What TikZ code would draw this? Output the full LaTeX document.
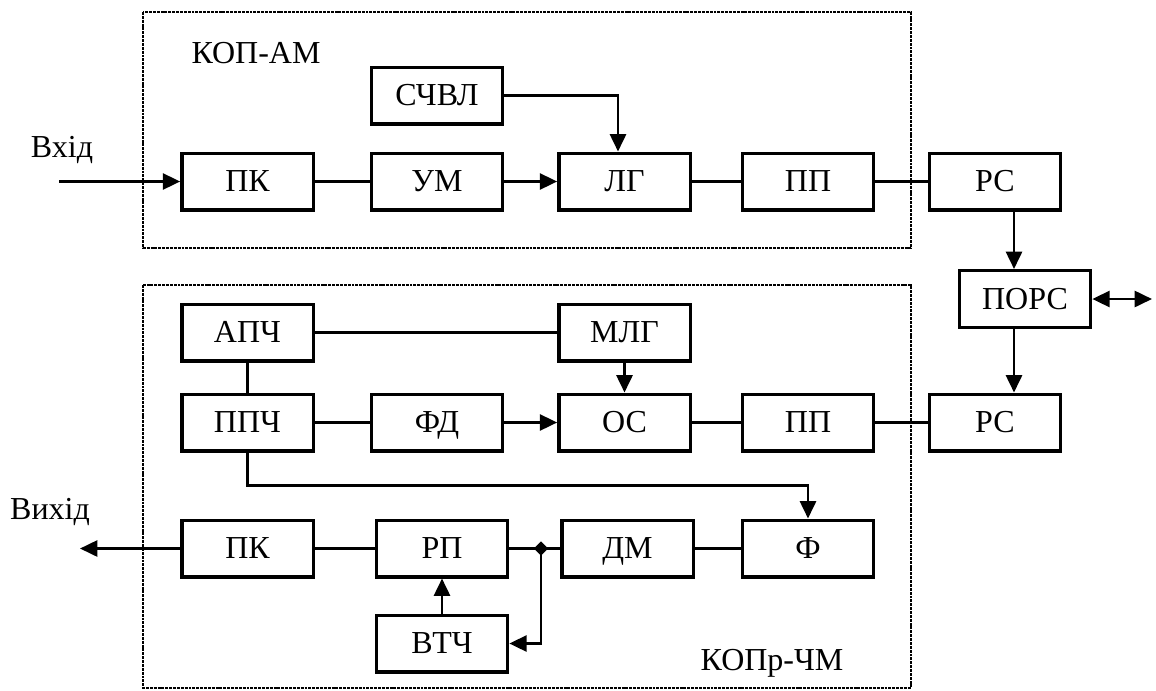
\documentclass[tikz,border=0pt]{standalone}
\usepackage{fontspec}
\setmainfont{Liberation Serif}
\usetikzlibrary{arrows.meta,shapes.geometric}
\begin{document}
\begin{tikzpicture}[x=0.75pt,y=-0.75pt,
  blk/.style={draw,line width=2.5pt,minimum width=98.5pt,minimum height=42.5pt,inner sep=0pt,text height=17pt,text depth=1.5pt,font=\fontsize{24}{28}\selectfont},
  lbl/.style={inner sep=0pt,font=\fontsize{24}{28}\selectfont},
  con/.style={line width=2pt},
  arr/.style={line width=2pt,-{Triangle[length=13pt,width=12pt]}},
  darr/.style={line width=2pt,{Triangle[length=13pt,width=12pt]}-{Triangle[length=13pt,width=12pt]}},
  frame/.style={line width=2.2pt,dash pattern=on 2.2pt off 0.7pt},
  jdot/.style={diamond,fill,inner sep=0pt,minimum size=11pt}]
\useasboundingbox (0,0) rectangle (1156,690);
% frames
\draw[frame] (143,12) rectangle (911,248);
\draw[frame] (143,285) rectangle (911,688);
% labels
\node[lbl] (kopam) at (256,53) {КОП-АМ};
\node[lbl] (vhid) at (62,150) {Вхід};
\node[lbl] (vyhid) at (50,512) {Вихід};
\node[lbl] (koprchm) at (772,663) {КОПр-ЧМ};
% top
\node[blk] (schvl) at (437,95.5) {СЧВЛ};
\node[blk] (pk1) at (247.5,181.5) {ПК};
\node[blk] (um) at (437,181.5) {УМ};
\node[blk] (lg) at (624.5,181.5) {ЛГ};
\node[blk] (pp1) at (808,181.5) {ПП};
\node[blk] (rs1) at (995,181.5) {РС};
\node[blk] (pors) at (1025,299) {ПОРС};
% middle
\node[blk] (apch) at (247.5,332.5) {АПЧ};
\node[blk] (mlg) at (624.5,332.5) {МЛГ};
\node[blk] (ppch) at (247.5,422.5) {ППЧ};
\node[blk] (fd) at (437,422.5) {ФД};
\node[blk] (os) at (624.5,422.5) {ОС};
\node[blk] (pp2) at (808,422.5) {ПП};
\node[blk] (rs2) at (995,422.5) {РС};
% bottom
\node[blk] (pk2) at (247.5,548.5) {ПК};
\node[blk] (rp) at (442,548.5) {РП};
\node[blk] (dm) at (627.5,548.5) {ДМ};
\node[blk] (f) at (808,548.5) {Ф};
\node[blk] (vtch) at (442,643.5) {ВТЧ};
\node[jdot] (j) at (541,548.5) {};
\coordinate (in) at (59,181.5);
\coordinate (out) at (80,548.5);
\coordinate (ext) at (1152,299);
\coordinate (vx) at (1014,0);
\coordinate (lgx) at (618,0);
% connectors top
\draw[arr] (in) -- (pk1.west);
\draw[con] (pk1) -- (um);
\draw[arr] (um.east) -- (lg.west);
\draw[con] (lg) -- (pp1);
\draw[con] (pp1) -- (rs1);
\draw[arr] (schvl.east) -| (lg.north -| lgx);
\draw[arr] (rs1.south -| vx) -- (pors.north -| vx);
\draw[arr] (pors.south -| vx) -- (rs2.north -| vx);
\draw[darr] (pors.east) -- (ext);
% middle
\draw[con] (apch) -- (mlg);
\draw[con] (apch) -- (ppch);
\draw[arr] (mlg.south) -- (os.north);
\draw[con] (ppch) -- (fd);
\draw[arr] (fd.east) -- (os.west);
\draw[con] (os) -- (pp2);
\draw[con] (pp2) -- (rs2);
\draw[arr] (ppch.south) -- ++(0,33) -| (f.north);
% bottom
\draw[arr] (pk2.west) -- (out);
\draw[con] (pk2) -- (rp);
\draw[con] (rp.east) -- (j.center) -- (dm.west);
\draw[con] (dm) -- (f);
\draw[arr] (j.center) |- (vtch.east);
\draw[arr] (vtch.north) -- (rp.south);
\end{tikzpicture}
\end{document}
